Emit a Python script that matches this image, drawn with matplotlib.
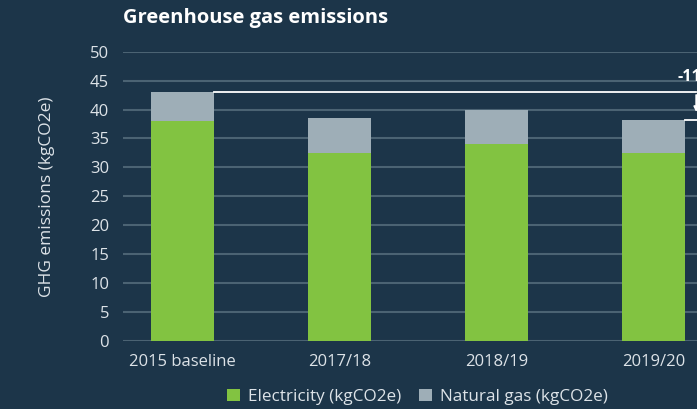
import numpy as np
import matplotlib.pyplot as plt

years = ["2015 baseline", "2017/18", "2018/19", "2019/20"]
electricity = [38.0, 32.5, 34.1, 32.5]
natural_gas = [5.0, 6.0, 5.8, 5.7]
change_label = "-11%"

bg = "#1c3549"
green = "#82c341"
grey = "#9eaeb7"
txt = "#dde3e8"

plt.rcParams['font.family'] = ['Open Sans', 'DejaVu Sans']

fig = plt.figure(figsize=(6.97, 4.09), dpi=100, facecolor=bg)
ax = fig.add_axes([123/697, 68/409, (697-123)/697, 289.3/409])
ax.set_facecolor(bg)

x = np.arange(len(years))
w = 0.40
ax.bar(x, electricity, w, color=green, label="Electricity (kgCO2e)", zorder=3)
totals = np.array(electricity) + np.array(natural_gas)
ax.bar(x, natural_gas, w, bottom=electricity, color=grey, label="Natural gas (kgCO2e)", zorder=3)

ax.set_xlim(-0.377, 3.277)
ax.set_ylim(0, 50)
ax.set_yticks(range(0, 51, 5))
ax.set_xticks(x)
ax.set_xticklabels(years)
ax.grid(axis='y', color="#4b6373", linewidth=1.5, zorder=0)
for s in ax.spines.values():
    s.set_visible(False)
ax.tick_params(length=0, colors=txt, labelsize=12)
ax.tick_params(axis='x', pad=9)
ax.tick_params(axis='y', pad=10)
ax.set_ylabel("GHG emissions (kgCO2e)", color=txt, fontsize=12.5, labelpad=25)

# change arrow from baseline to latest year
xa = 3.272
ax.plot([w/2, xa], [totals[0], totals[0]], color="white", lw=1.3, zorder=4, clip_on=False)
ax.plot([3 + w/2, 3.3], [totals[3], totals[3]], color="white", lw=1.3, zorder=4, clip_on=False)
ax.annotate("", xy=(xa, totals[3] + 0.9), xytext=(xa, totals[0]),
            arrowprops=dict(arrowstyle="-|>", color="white", lw=1.3, mutation_scale=7),
            annotation_clip=False, zorder=4)
ax.text(3.15, 45.6, change_label, color="white", fontsize=11.5, fontweight='bold',
        va='center', ha='left', clip_on=False)

fig.text(123/697, 1 - 18/409, "Greenhouse gas emissions", color="white",
         fontsize=14.5, fontweight='bold', va='center', ha='left')

leg = fig.legend(loc='center', bbox_to_anchor=(0.599, 0.030), ncol=2, frameon=False,
                 fontsize=12.3, handlelength=0.75, handleheight=0.75, handletextpad=0.5,
                 columnspacing=1.0)
for t in leg.get_texts():
    t.set_color(txt)

fig.savefig("out.png", dpi=100, facecolor=bg)
